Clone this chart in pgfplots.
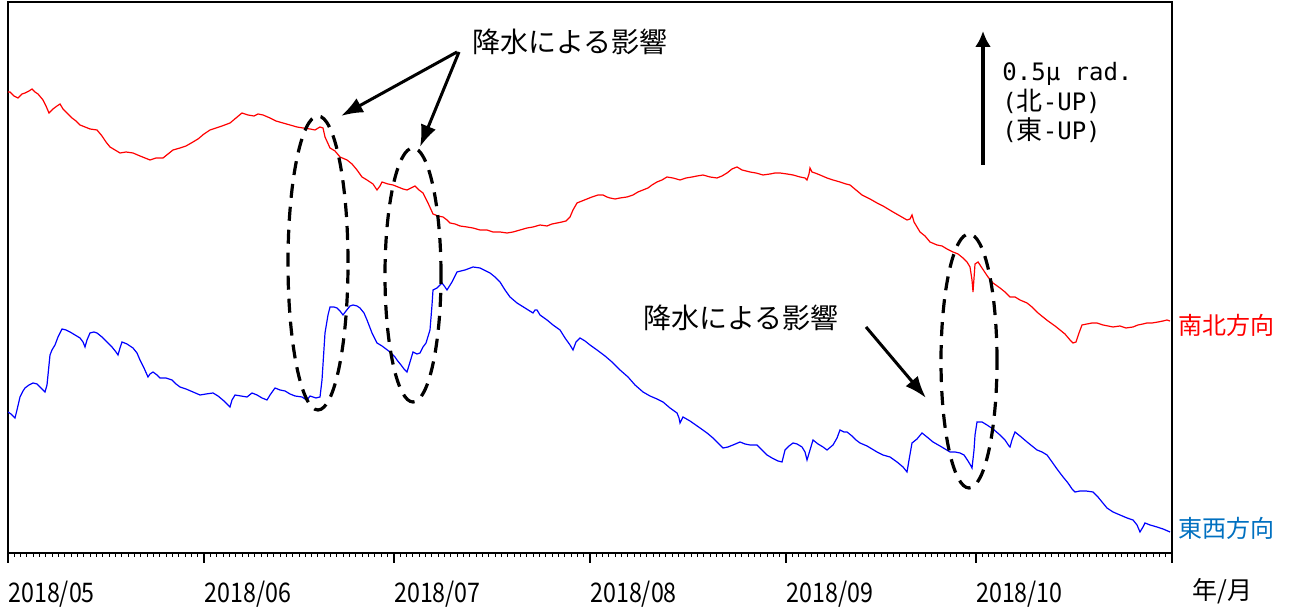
\documentclass[border=0pt]{standalone}
\usepackage{fontspec}
\setmainfont{Noto Sans CJK JP}
\newfontfamily\monofnt{DejaVu Sans Mono}
\newfontfamily\cjk{Noto Sans CJK JP}
\newfontfamily\tickfont[FakeStretch=0.86]{Noto Sans CJK JP}
\usepackage{pgfplots}
\pgfplotsset{compat=1.18}
\usepackage{pgfplotstable}
\usetikzlibrary{arrows.meta}
\definecolor{nsred}{RGB}{255,0,0}
\definecolor{ewblue}{RGB}{0,0,255}
\definecolor{lblblue}{RGB}{0,112,192}

% px = horizontal position (0.5pt units), py = vertical position
\pgfplotstableread{
px py
8 92
10 92
14 96
18 98
22 94
25 93
29 91
32 89
35 92
38 94
43 100
46 106
49 113
53 109
57 106
60 104
63 109
67 113
72 118
76 121
80 125
85 127
90 129
97 130
102 136
106 142
110 147
115 150
120 153
126 152
133 153
140 156
145 158
150 160
156 158
163 158
168 154
173 150
180 148
186 146
193 142
198 139
204 134
210 130
216 128
222 126
230 123
236 118
242 113
248 115
254 116
258 114
263 115
270 118
276 121
283 123
290 125
297 127
303 128
310 129
315 130
320 127
323 128
325 137
330 148
335 151
340 157
347 160
352 164
357 170
362 177
367 180
373 184
377 190
380 186
382 182
388 184
393 185
398 187
403 189
407 190
411 188
415 186
419 190
423 193
428 203
433 214
438 216
443 217
447 220
450 223
455 224
460 226
467 227
473 228
480 230
487 230
493 232
500 232
507 233
513 232
520 230
527 228
533 227
540 225
547 226
552 224
557 223
562 222
566 221
570 217
573 210
577 203
582 201
587 199
592 197
598 195
603 195
607 197
610 198
615 199
620 198
627 197
633 195
638 192
643 190
648 188
652 185
657 182
662 180
667 177
673 178
680 180
686 178
692 177
697 176
703 175
710 177
717 178
722 176
727 173
732 169
737 167
742 170
746 171
750 172
756 173
763 175
770 174
775 173
780 173
787 174
793 175
800 177
805 178
807 180
809 174
810 168
812 172
815 173
820 175
827 178
833 180
840 182
846 184
850 185
856 190
862 195
870 199
877 203
883 206
888 209
893 212
900 216
907 220
910 219
912 215
914 222
920 232
925 236
930 242
937 245
942 246
947 249
953 252
958 254
963 258
967 262
970 267
972 280
973 292
974 278
975 264
978 262
982 268
988 277
993 283
1000 288
1005 292
1010 297
1015 297
1020 300
1027 303
1032 307
1038 313
1043 317
1048 321
1055 326
1060 330
1065 334
1070 340
1073 343
1076 342
1079 333
1082 325
1087 324
1092 323
1097 323
1103 325
1108 326
1113 327
1120 326
1126 328
1133 327
1138 325
1143 324
1147 323
1152 323
1158 322
1163 321
1167 320
1170 321
}\nsdata

\pgfplotstableread{
px py
8 412
11 414
15 418
17 410
20 397
23 391
25 388
29 385
33 383
37 384
40 387
43 390
45 392
47 385
50 355
52 350
55 345
58 337
62 329
66 330
70 332
75 335
80 338
83 342
85 347
87 340
90 333
94 332
97 333
102 337
107 342
112 347
116 352
118 355
120 348
122 342
127 344
133 348
137 353
140 360
144 368
148 377
150 374
153 372
157 375
160 378
166 378
172 380
176 384
180 387
186 389
193 392
200 395
206 394
213 393
218 396
224 401
230 407
232 400
235 395
241 396
247 397
252 393
257 395
262 398
267 400
270 395
275 388
280 390
285 391
290 394
295 396
302 397
305 399
307 400
310 396
313 397
316 398
320 397
322 380
325 333
328 315
330 307
334 307
337 308
340 311
343 315
346 311
350 306
353 305
357 306
360 308
364 313
367 320
372 333
377 343
382 346
386 349
390 352
395 357
397 360
401 365
404 369
407 372
410 362
413 352
417 354
420 353
423 347
426 343
430 330
432 305
433 290
437 288
442 283
445 287
447 290
452 282
457 272
465 270
473 267
480 268
490 273
495 277
500 282
505 290
510 297
517 303
525 308
533 313
535 310
537 310
540 315
547 320
553 325
560 330
565 338
570 345
573 350
576 342
580 338
585 341
590 345
597 350
605 356
612 362
620 370
628 377
635 385
643 392
650 396
657 399
663 402
670 408
677 413
679 418
680 423
682 419
683 417
690 421
700 428
707 433
713 438
718 443
723 448
728 447
733 445
740 442
745 444
750 445
757 445
762 450
767 455
772 458
778 461
782 462
785 450
789 446
793 443
797 444
802 447
805 452
807 460
810 450
813 440
818 444
823 447
827 450
833 445
837 438
840 430
844 432
847 432
852 436
856 440
860 443
867 446
872 449
877 452
883 455
890 457
897 462
903 467
907 472
909 460
912 443
917 439
922 433
927 437
933 442
940 446
945 449
950 452
955 452
960 453
964 455
968 461
971 466
972 468
974 450
975 435
977 422
982 422
987 425
993 429
1000 435
1005 440
1009 446
1010 447
1012 440
1015 432
1020 436
1027 442
1032 446
1037 450
1042 452
1047 455
1052 462
1057 469
1063 477
1068 483
1072 489
1075 492
1080 491
1086 491
1093 492
1098 497
1102 502
1107 508
1113 512
1120 515
1127 518
1133 520
1137 525
1140 532
1143 527
1145 523
1150 525
1157 527
1163 529
1170 532
}\ewdata

\begin{document}
\begin{tikzpicture}
\path[use as bounding box] (-4pt,-27.5pt) rectangle (641.5pt,276.5pt);
\begin{axis}[
  scale only axis, width=582pt, height=275.5pt,
  xmin=0, xmax=184, ymin=0, ymax=551,
  axis line style={line width=1pt},
  xtick={0,31,61,92,123,153,184},
  xticklabels={2018/05,2018/06,2018/07,2018/08,2018/09,2018/10,{}},
  minor xtick={0,1,...,184},
  ytick=\empty,
  xtick pos=left,
  tick align=outside,
  major tick length=5pt, minor tick length=2pt,
  every major tick/.style={black, line width=1pt},
  every minor tick/.style={black, line width=0.5pt},
  xticklabel style={anchor=base west, inner sep=0pt, font=\tickfont\fontsize{13.5pt}{15pt}\selectfont, yshift=-20pt},
]
\addplot[nsred, line width=0.6pt] table[x expr=(\thisrow{px}-8)/6.326, y expr=553-\thisrow{py}] {\nsdata};
\addplot[ewblue, line width=0.6pt] table[x expr=(\thisrow{px}-8)/6.326, y expr=553-\thisrow{py}] {\ewdata};
\end{axis}
\begin{scope}[x=0.5pt, y=-0.5pt, shift={(-4pt,276.5pt)}]
  % dashed ellipses
  \draw[black, line width=1.6pt, dash pattern=on 7pt off 4.5pt] (318,263) ellipse [x radius=15pt, y radius=73.5pt];
  \draw[black, line width=1.6pt, dash pattern=on 7pt off 4.5pt] (413,275) ellipse [x radius=14pt, y radius=63.5pt];
  \draw[black, line width=1.6pt, dash pattern=on 7pt off 4.5pt] (969,361) ellipse [x radius=14pt, y radius=63.5pt];
  % annotation texts
  \node[anchor=west, inner sep=0pt, font=\fontsize{14pt}{16pt}\selectfont] at (472,42) {降水による影響};
  \node[anchor=west, inner sep=0pt, font=\fontsize{14pt}{16pt}\selectfont] at (643,318) {降水による影響};
  % arrows
  \draw[line width=1.5pt, -{Latex[length=11pt,width=8pt]}] (457,52) -- (341,116);
  \draw[line width=1.5pt, -{Latex[length=11pt,width=8pt]}] (459,52) -- (420,147);
  \draw[line width=1.5pt, -{Latex[length=11pt,width=8pt]}] (866,327) -- (926,398);
  % scale arrow
  \draw[line width=2pt, -{Latex[length=8pt,width=8pt]}] (983,165) -- (983,31);
  \node[anchor=base west, inner sep=0pt, font=\monofnt\fontsize{12pt}{14pt}\selectfont] at (1002,81) {0.5μ rad.};
  \node[anchor=base west, inner sep=0pt, font=\monofnt\fontsize{12pt}{14pt}\selectfont] at (1002,111) {({\cjk\fontsize{13pt}{14pt}\selectfont 北}-UP)};
  \node[anchor=base west, inner sep=0pt, font=\monofnt\fontsize{12pt}{14pt}\selectfont] at (1002,140) {({\cjk\fontsize{13pt}{14pt}\selectfont 東}-UP)};
  % series labels
  \node[anchor=west, inner sep=0pt, text=nsred, font=\fontsize{12pt}{14pt}\selectfont] at (1178,325) {南北方向};
  \node[anchor=west, inner sep=0pt, text=lblblue, font=\fontsize{12pt}{14pt}\selectfont] at (1178,528) {東西方向};
  % axis unit label
  \node[anchor=base west, inner sep=0pt, font=\fontsize{12.5pt}{14pt}\selectfont] at (1192,600) {年/月};
\end{scope}
\end{tikzpicture}
\end{document}
